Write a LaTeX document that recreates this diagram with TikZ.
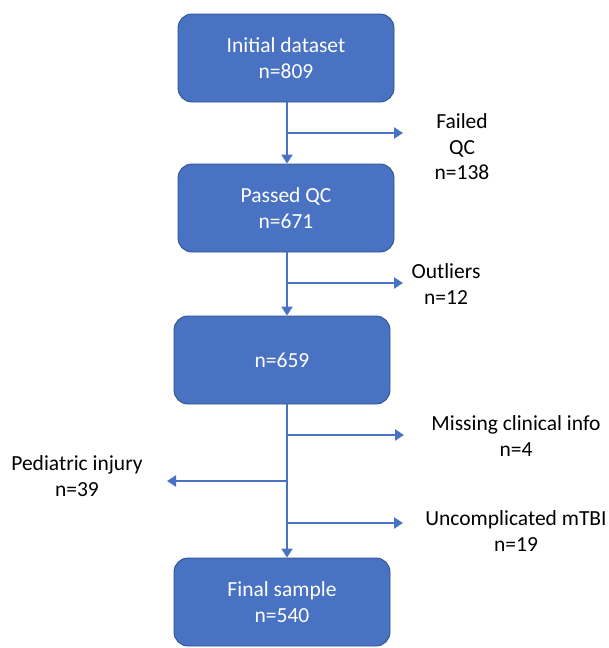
\documentclass[tikz,border=0pt]{standalone}
\usepackage{fontspec}
\setmainfont{Carlito}
\usepackage{xcolor}
\usetikzlibrary{positioning, calc, arrows.meta}

\definecolor{boxblue}{HTML}{4A72C2}
\definecolor{boxedge}{HTML}{2F528F}

\begin{document}
\begin{tikzpicture}[
        x=1pt, y=-1pt,
        % Define the blue stage boxes
        stage/.style={
            draw=boxedge,
            line width=0.9pt,
            fill=boxblue,
            rounded corners=14pt,
            minimum width=216pt,
            minimum height=88pt,
            text=white,
            align=center,
            inner sep=0pt,
            font=\fontsize{21.5}{26}\selectfont
        },
        note/.style={
            align=center,
            inner sep=0pt,
            font=\fontsize{21.5}{25.5}\selectfont
        },
        flow/.style={
            draw=boxblue,
            line width=2.8pt,
            -{Triangle[length=9pt,width=11pt]}
        }
    ]
    \useasboundingbox (0,0) rectangle (608,648);

    % ==========================================
    % STAGE BOXES
    % ==========================================
    \node[stage] (initial) at (286,58) {Initial dataset\\n=809};
    \node[stage] (passed) at (286,208) {Passed QC\\n=671};
    \node[stage] (clean) at (282,360) {n=659};
    \node[stage] (final) at (282,602) {Final sample\\n=540};

    % Spine of the flow
    \coordinate (spine) at (287,0);

    % ==========================================
    % EXCLUSION LABELS
    % ==========================================
    \node[note] (failed) at (462,147) {Failed\\QC\\n=138};
    \node[note] (outliers) at (446,284) {Outliers\\n=12};
    \node[note] (missing) at (516,436) {Missing clinical info\\n=4};
    \node[note] (pediatric) at (77,476) {Pediatric injury\\n=39};
    \node[note] (uncompl) at (516,531) {Uncomplicated mTBI\\n=19};

    % Branch points and arrow ends
    \coordinate (b1) at (287,133);
    \coordinate (e1) at (403,133);
    \coordinate (b2) at (287,283);
    \coordinate (e2) at (403,283);
    \coordinate (b3) at (287,435);
    \coordinate (e3) at (404,435);
    \coordinate (b4) at (287,481);
    \coordinate (e4) at (167,481);
    \coordinate (b5) at (287,523);
    \coordinate (e5) at (403,523);

    % ==========================================
    % CONNECTORS
    % ==========================================
    \draw[flow] (initial.south -| spine) -- (passed.north -| spine);
    \draw[flow] (passed.south -| spine) -- (clean.north -| spine);
    \draw[flow] (clean.south -| spine) -- (final.north -| spine);

    \draw[flow] (b1) -- (e1);
    \draw[flow] (b2) -- (e2);
    \draw[flow] (b3) -- (e3);
    \draw[flow] (b4) -- (e4);
    \draw[flow] (b5) -- (e5);

\end{tikzpicture}
\end{document}
